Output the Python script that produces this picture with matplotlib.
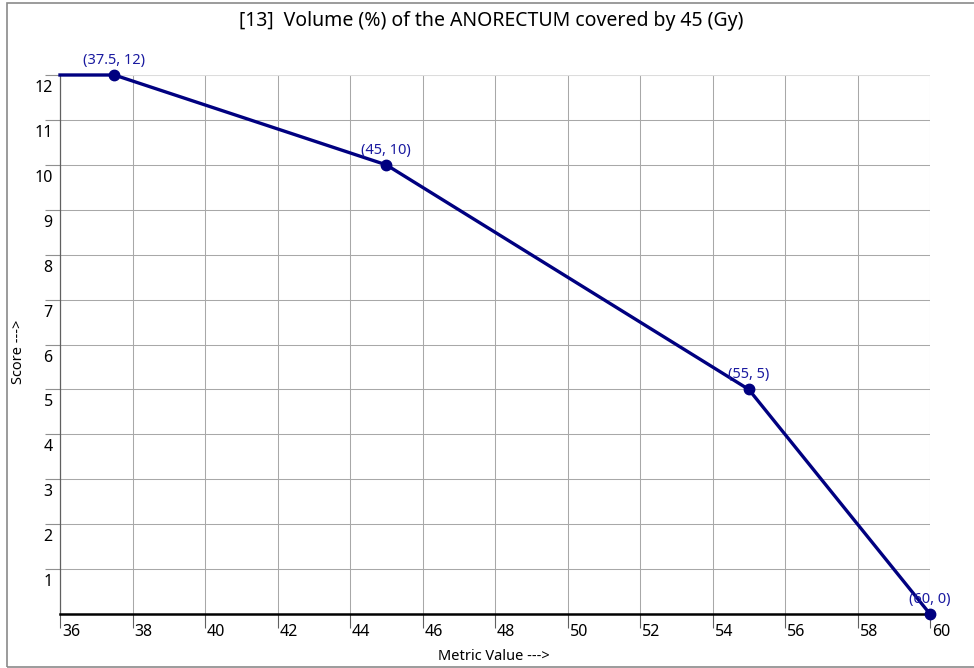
import matplotlib.pyplot as plt
from matplotlib.patches import Rectangle
from matplotlib.transforms import ScaledTranslation

plt.rcParams['font.family'] = ['Noto Sans', 'DejaVu Sans']

# line data (the first point only extends the flat part to the axis)
x = [36, 37.5, 45, 55, 60]
y = [12, 12, 10, 5, 0]
# labelled points
px = [37.5, 45, 55, 60]
py = [12, 10, 5, 0]
plabels = ["(37.5, 12)", "(45, 10)", "(55, 5)", "(60, 0)"]

xticks = list(range(36, 61, 2))
yticks = list(range(1, 13))

fig = plt.figure(figsize=(9.74, 6.68), dpi=100)
ax = fig.add_axes([60/974, 54/668, 870/974, 539/668])
# frame round the chart (no right edge visible in the picture)
fig.patches.append(Rectangle((7/974, 1.5/668), 980/974, 664/668, transform=fig.transFigure,
                             fill=False, edgecolor='#8a8a8a', linewidth=1.2))

ax.set_xlim(36, 60)
ax.set_ylim(0, 12)
ax.set_xticks(xticks)
ax.set_yticks(yticks)
ax.grid(True, color='#a8a8a8', linewidth=0.75)
ax.set_axisbelow(True)
ax.get_ygridlines()[-1].set_color('#dcdcdc')
ax.get_ygridlines()[-1].set_linewidth(1.5)

for s in ['top', 'right']:
    ax.spines[s].set_visible(False)
ax.spines['left'].set_color('#606060')
ax.spines['left'].set_linewidth(0.9)
ax.spines['bottom'].set_color('black')
ax.spines['bottom'].set_linewidth(1.8)
ax.spines['bottom'].set_zorder(3)

ax.tick_params(axis='x', length=10, width=0.8, color='#606060', labelsize=11.5, pad=-3)
ax.tick_params(axis='y', length=11, width=0.8, color='#909090', labelsize=11.5, pad=0)
for lab in ax.get_xticklabels():
    lab.set_ha('left')
    lab.set_transform(lab.get_transform() + ScaledTranslation(2/100, 0, fig.dpi_scale_trans))
for lab in ax.get_yticklabels():
    lab.set_va('center')
    lab.set_transform(lab.get_transform() + ScaledTranslation(8/100, -13/100, fig.dpi_scale_trans))

ax.plot(x, y, color='#000080', linewidth=2.4, clip_on=False, zorder=4)
ax.plot(px, py, 'o', color='#000080', markersize=7.5, clip_on=False, zorder=5)
for a, b, t in zip(px, py, plabels):
    ax.annotate(t, (a, b), xytext=(0, 5), textcoords='offset points', ha='center', va='bottom',
                color='#1a1aa0', fontsize=10.5, zorder=6, annotation_clip=False)

fig.text(0.504, 0.968, "[13]  Volume (%) of the ANORECTUM covered by 45 (Gy)",
         ha='center', va='center', fontsize=14)
fig.text(0.507, 11/668, "Metric Value --->", ha='center', va='center', fontsize=10.5)
fig.text(18/974, 1 - 352/668, "Score --->", ha='center', va='center', rotation=90, fontsize=10.5)

fig.savefig("out.png", dpi=100)
